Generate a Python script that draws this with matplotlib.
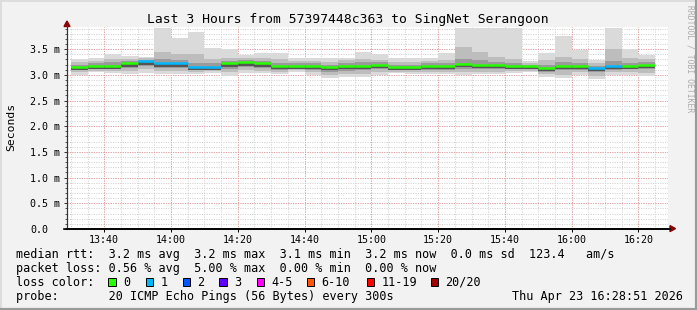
import matplotlib
matplotlib.use("Agg")
import matplotlib.pyplot as plt
from matplotlib.patches import Rectangle, Polygon
from matplotlib.lines import Line2D
import numpy as np

# 5 minute bins, labelled by end time
bin_end = ['13:35', '13:40', '13:45', '13:50', '13:55', '14:00', '14:05', '14:10', '14:15',
           '14:20', '14:25', '14:30', '14:35', '14:40', '14:45', '14:50', '14:55', '15:00',
           '15:05', '15:10', '15:15', '15:20', '15:25', '15:30', '15:35', '15:40', '15:45',
           '15:50', '15:55', '16:00', '16:05', '16:10', '16:15', '16:20', '16:25']

# rtt in ms
median = [3.15, 3.18, 3.18, 3.22, 3.26, 3.22, 3.22, 3.15, 3.15, 3.22, 3.24, 3.22, 3.18, 3.18,
          3.18, 3.15, 3.18, 3.18, 3.20, 3.15, 3.15, 3.18, 3.17, 3.21, 3.19, 3.19, 3.18, 3.18,
          3.14, 3.18, 3.18, 3.14, 3.18, 3.18, 3.19]
ping_max = [3.30, 3.32, 3.41, 3.37, 3.35, 3.92, 3.72, 3.83, 3.52, 3.50, 3.39, 3.42, 3.42, 3.33,
            3.32, 3.32, 3.32, 3.45, 3.40, 3.32, 3.32, 3.32, 3.42, 3.92, 3.92, 3.92, 3.92, 3.26,
            3.43, 3.75, 3.48, 3.29, 3.92, 3.50, 3.39]
ping_p90 = [3.24, 3.26, 3.30, 3.30, 3.32, 3.45, 3.40, 3.40, 3.30, 3.32, 3.32, 3.32, 3.30, 3.26,
            3.26, 3.25, 3.28, 3.30, 3.28, 3.25, 3.25, 3.26, 3.28, 3.55, 3.45, 3.35, 3.30, 3.22,
            3.28, 3.35, 3.30, 3.22, 3.50, 3.32, 3.30]
ping_p75 = [3.20, 3.22, 3.24, 3.26, 3.28, 3.30, 3.28, 3.22, 3.22, 3.26, 3.28, 3.26, 3.23, 3.22,
            3.22, 3.20, 3.22, 3.24, 3.24, 3.20, 3.20, 3.22, 3.22, 3.30, 3.28, 3.24, 3.22, 3.20,
            3.20, 3.24, 3.22, 3.18, 3.26, 3.22, 3.24]
ping_p25 = [3.10, 3.12, 3.12, 3.14, 3.18, 3.14, 3.14, 3.10, 3.10, 3.12, 3.16, 3.14, 3.10, 3.12,
            3.10, 3.06, 3.08, 3.10, 3.12, 3.10, 3.10, 3.10, 3.10, 3.12, 3.12, 3.12, 3.12, 3.12,
            3.06, 3.10, 3.10, 3.06, 3.10, 3.12, 3.12]
ping_p10 = [3.06, 3.08, 3.08, 3.07, 3.12, 3.08, 3.08, 3.06, 3.07, 3.05, 3.10, 3.08, 3.06, 3.09,
            3.05, 3.00, 3.02, 3.02, 3.06, 3.06, 3.06, 3.06, 3.06, 3.06, 3.06, 3.06, 3.08, 3.08,
            3.01, 3.00, 3.05, 2.98, 3.05, 3.06, 3.04]
ping_min = [2.99, 3.05, 3.04, 3.01, 3.04, 3.01, 3.01, 3.01, 3.03, 2.98, 3.04, 3.04, 3.01, 3.06,
            3.00, 2.93, 2.96, 2.95, 3.00, 3.03, 3.01, 3.01, 3.01, 3.00, 3.01, 3.01, 3.03, 3.06,
            2.96, 2.94, 3.00, 2.91, 3.00, 3.00, 2.97]
# lost pings out of 20 per bin
lost = [0, 0, 0, 0, 1, 1, 1, 1, 1, 0, 0, 0, 0, 0, 0, 0, 0, 0, 0, 0, 0, 0, 0, 0, 0, 0, 0, 0,
        0, 0, 0, 1, 1, 0, 0]

loss_labels = ['0', '1', '2', '3', '4-5', '6-10', '11-19', '20/20']
loss_colors = ['#26ff00', '#00b8ff', '#0059ff', '#5e00ff', '#ff00ff', '#ff5500', '#ff0000', '#a10000']

x_ticks = ['13:40', '14:00', '14:20', '14:40', '15:00', '15:20', '15:40', '16:00', '16:20']
y_ticks = [0.0, 0.5, 1.0, 1.5, 2.0, 2.5, 3.0, 3.5]

t_start, t_end = '13:28:51', '16:28:51'


def mins(s):
    p = [int(v) for v in s.split(':')] + [0]
    return (p[0] - 13) * 60 + p[1] + p[2] / 60.0


W, H = 697, 310
fx = lambda px: px / W
fy = lambda py: 1 - py / H

mono = 'DejaVu Sans Mono'
fig = plt.figure(figsize=(W / 100, H / 100), dpi=100, facecolor='#f2f2f2')
ax = fig.add_axes([fx(67), fy(229), (668 - 67) / W, (229 - 27) / H])
ax.set_facecolor('white')

xmin, xmax = mins(t_start), mins(t_end)
ends = np.array([mins(s) for s in bin_end])
starts = np.maximum(ends - 5, xmin)
widths = ends - starts

# grid
for v in np.arange(0, 3.95, 0.1):
    ax.axhline(v, color='#cfcfcf', lw=0.72, ls=(0, (1, 1.4)), zorder=0)
for t in np.arange(30, 209, 5):
    ax.axvline(t, color='#cfcfcf', lw=0.72, ls=(0, (1, 1.4)), zorder=0)
for v in y_ticks[1:]:
    ax.axhline(v, color='#e89a9a', lw=0.72, ls=(0, (1, 1.4)), zorder=0.5)
for s in x_ticks:
    ax.axvline(mins(s), color='#e89a9a', lw=0.72, ls=(0, (1, 1.4)), zorder=0.5)

# smoke
layers = [(ping_min, ping_max, '#dadada'), (ping_p10, ping_p90, '#bdbdbd'),
          (ping_p25, ping_p75, '#9a9a9a')]
for lo, hi, c in layers:
    lo = np.array(lo); hi = np.array(hi)
    ax.bar(starts, hi - lo, bottom=lo, width=widths, align='edge', color=c, lw=0, zorder=1)
ax.bar(starts, 0.05, bottom=np.array(median) - 0.06, width=widths, align='edge',
       color='#555555', lw=0, zorder=1.5)

# median coloured by loss
def loss_idx(n):
    if n <= 3:
        return n
    if n <= 5:
        return 4
    if n <= 10:
        return 5
    if n <= 19:
        return 6
    return 7

for s, e, m, n in zip(starts, ends, median, lost):
    ax.hlines(m, s, e, color=loss_colors[loss_idx(n)], lw=1.8, zorder=3)

ax.set_xlim(xmin, xmax)
ax.set_ylim(0, 3.93)
ax.set_xticks([mins(s) for s in x_ticks])
ax.set_xticklabels(x_ticks, fontfamily=mono, fontsize=7.2)
ax.set_yticks(y_ticks)
ax.set_yticklabels(['%.1f m' % v if v else '0.0' for v in y_ticks], fontfamily=mono,
                   fontsize=7.2, ha='left')
ax.set_yticks(np.arange(0, 3.95, 0.1), minor=True)
ax.tick_params(axis='y', which='major', direction='out', length=2.5, width=0.7, pad=24.2,
               colors='#333333', labelcolor='black')
ax.tick_params(axis='y', which='minor', direction='out', length=1.5, width=0.7, colors='#555555')
ax.tick_params(axis='x', which='major', direction='out', length=2, width=0.7, pad=2.2)
for sp in ('top', 'right'):
    ax.spines[sp].set_visible(False)
ax.spines['left'].set_linewidth(0.8)
ax.spines['left'].set_color('#333333')
ax.spines['bottom'].set_linewidth(1.2)
ax.spines['bottom'].set_color('black')

# axis arrows
fig.add_artist(Line2D([fx(67), fx(67)], [fy(229), fy(25)], color='#333333', lw=0.8))
fig.add_artist(Line2D([fx(64), fx(670)], [fy(228.6), fy(228.6)], color='black', lw=1.2))
fig.add_artist(Polygon([[fx(67), fy(21)], [fx(64), fy(26.5)], [fx(70), fy(26.5)]],
                       closed=True, color='#8b0000', transform=fig.transFigure))
fig.add_artist(Polygon([[fx(675.5), fy(228.6)], [fx(670), fy(225.6)], [fx(670), fy(231.6)]],
                       closed=True, color='#8b0000', transform=fig.transFigure))

# texts
fig.text(fx(348), fy(19), 'Last 3 Hours from 57397448c363 to SingNet Serangoon',
         fontfamily=mono, fontsize=9.4, ha='center', va='center')
fig.text(fx(11), fy(127), 'Seconds', fontfamily=mono, fontsize=8.2, rotation=90,
         ha='center', va='center')
fig.text(fx(690), fy(5), 'RRDTOOL / TOBI OETIKER', fontfamily=mono, fontsize=5.8,
         rotation=270, ha='center', va='top', color='#aaaaaa')

fs = 8.5
fig.text(fx(16), fy(254.3), 'median rtt:  3.2 ms avg  3.2 ms max  3.1 ms min  3.2 ms now  '
         '0.0 ms sd  123.4   am/s', fontfamily=mono, fontsize=fs, va='center')
fig.text(fx(16), fy(268.3), 'packet loss: 0.56 % avg  5.00 % max  0.00 % min  0.00 % now',
         fontfamily=mono, fontsize=fs, va='center')
fig.text(fx(16), fy(282.3), 'loss color:', fontfamily=mono, fontsize=fs, va='center')
sw_x = [108.3, 145.7, 182.7, 219.3, 256.7, 306.7, 366.7, 430.5]
for xx, lab, c in zip(sw_x, loss_labels, loss_colors):
    fig.add_artist(Rectangle((fx(xx), fy(286.3)), 7.5 / W, 8 / H, facecolor=c,
                             edgecolor='black', lw=0.7, transform=fig.transFigure))
    fig.text(fx(xx + 14.5), fy(282.3), lab, fontfamily=mono, fontsize=fs, va='center')
fig.text(fx(16), fy(296.3), 'probe:       20 ICMP Echo Pings (56 Bytes) every 300s',
         fontfamily=mono, fontsize=fs, va='center')
fig.text(fx(683), fy(296.3), 'Thu Apr 23 16:28:51 2026', fontfamily=mono, fontsize=fs,
         va='center', ha='right')

# image frame
fig.add_artist(Line2D([0, 0, 1], [0, 1, 1], color='#dcdcdc', lw=2, transform=fig.transFigure))
fig.add_artist(Line2D([0, 1, 1], [0, 0, 1], color='#9a9a9a', lw=3, transform=fig.transFigure))

fig.savefig('out.png', dpi=100, facecolor=fig.get_facecolor())
